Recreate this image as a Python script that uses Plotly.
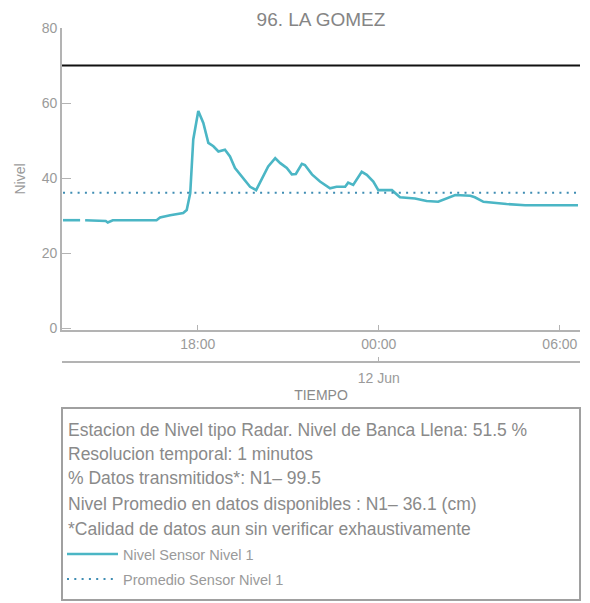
import plotly.graph_objects as go

# ---------------- data ----------------
TITLE = "96. LA GOMEZ"
times = [
    "2023-06-11 13:32", "2023-06-11 14:06", "2023-06-11 14:10", "2023-06-11 14:16",
    "2023-06-11 14:55", "2023-06-11 14:57", "2023-06-11 15:01", "2023-06-11 15:05",
    "2023-06-11 15:11", "2023-06-11 16:38", "2023-06-11 16:45", "2023-06-11 17:05",
    "2023-06-11 17:31", "2023-06-11 17:38", "2023-06-11 17:45", "2023-06-11 17:51",
    "2023-06-11 18:01", "2023-06-11 18:11", "2023-06-11 18:21", "2023-06-11 18:31",
    "2023-06-11 18:41", "2023-06-11 18:54", "2023-06-11 19:04", "2023-06-11 19:14",
    "2023-06-11 19:27", "2023-06-11 19:44", "2023-06-11 19:56", "2023-06-11 20:07",
    "2023-06-11 20:20", "2023-06-11 20:34", "2023-06-11 20:44", "2023-06-11 20:57",
    "2023-06-11 21:07", "2023-06-11 21:15", "2023-06-11 21:27", "2023-06-11 21:33",
    "2023-06-11 21:47", "2023-06-11 22:03", "2023-06-11 22:23", "2023-06-11 22:36",
    "2023-06-11 22:53", "2023-06-11 22:59", "2023-06-11 23:09", "2023-06-11 23:26",
    "2023-06-11 23:36", "2023-06-11 23:49", "2023-06-11 23:59", "2023-06-12 00:26",
    "2023-06-12 00:36", "2023-06-12 00:42", "2023-06-12 01:12", "2023-06-12 01:35",
    "2023-06-12 01:58", "2023-06-12 02:15", "2023-06-12 02:32", "2023-06-12 03:02",
    "2023-06-12 03:11", "2023-06-12 03:28", "2023-06-12 03:48", "2023-06-12 04:14",
    "2023-06-12 04:51", "2023-06-12 06:36",
]
nivel = [
    28.8, 28.8, None, 28.8,
    28.8, 28.6, 28.2, 28.5,
    28.8, 28.8, 29.5, 30.1,
    30.7, 31.5, 36.0, 50.3,
    57.9, 54.7, 49.4, 48.5,
    47.1, 47.6, 45.8, 42.7,
    40.4, 37.7, 36.8, 39.5,
    43.1, 45.3, 44.0, 42.7,
    41.0, 41.1, 43.8, 43.5,
    41.0, 39.1, 37.3, 37.7,
    37.7, 38.8, 38.2, 41.7,
    40.9, 39.1, 36.8, 36.8,
    35.5, 34.9, 34.6, 33.9,
    33.7, 34.6, 35.5, 35.3,
    34.9, 33.7, 33.4, 33.1,
    32.8, 32.8,
]
NIVEL_PROMEDIO = 36.1
BANCA_LLENA = 70
x_range = ["2023-06-11 13:30", "2023-06-12 06:40"]
y_ticks = [0, 20, 40, 60, 80]
info_lines = [
    "Estacion de Nivel tipo Radar. Nivel de Banca Llena: 51.5 %",
    "Resolucion temporal: 1 minutos",
    "% Datos transmitidos*: N1\u2013 99.5",
    "Nivel Promedio en datos disponibles : N1\u2013 36.1 (cm)",
    "*Calidad de datos aun sin verificar exhaustivamente",
]
series_names = ["Nivel Sensor Nivel 1", "Promedio Sensor Nivel 1"]

# ---------------- figure ----------------
FONT = "Liberation Sans, Arial, sans-serif"
AXIS_C = "#b3b3b3"
TICK_C = "#9a9a9a"
TEXT_C = "#8a8a8a"
TEAL = "#4bb6c5"
BLUE_DOT = "#3f8db3"

fig = go.Figure()
fig.add_trace(go.Scatter(
    x=times, y=nivel, mode="lines", name=series_names[0],
    line=dict(color=TEAL, width=2.6), connectgaps=False, legend="legend",
))
fig.add_trace(go.Scatter(
    x=[times[0], times[-1]], y=[NIVEL_PROMEDIO, NIVEL_PROMEDIO], mode="lines",
    name=series_names[1], xaxis="x2",
    line=dict(color=BLUE_DOT, width=2, dash="2px,5.3px"), legend="legend2",
))
fig.add_hline(y=BANCA_LLENA, line=dict(color="#111111", width=2))

# page has an 8px body margin: figure pixel = page pixel - 8
W, H = 582, 595
T = 20
def py(page_pix):
    return (H - (page_pix - 8)) / (H - T)

fig.update_layout(
    width=W, height=H,
    margin=dict(l=54, r=10, t=T, b=0, autoexpand=False),
    paper_bgcolor="white", plot_bgcolor="white",
    font=dict(family=FONT, color=TICK_C, size=14),
    title=dict(text=TITLE, x=0.5, xref="paper", y=1 - 11.5 / H, yanchor="middle",
               font=dict(size=19, color="#858585")),
    xaxis=dict(
        type="date", range=x_range, domain=[0, 1], anchor="y", automargin=False,
        tickformat="%H:%M", dtick=6 * 3600 * 1000, tick0="2023-06-11 00:00",
        ticks="inside", ticklen=5, tickcolor=AXIS_C, tickwidth=1.2,
        showline=True, linecolor=AXIS_C, linewidth=1.6,
        showgrid=False, zeroline=False,
        tickfont=dict(size=14, color=TICK_C),
    ),
    xaxis2=dict(
        type="date", range=x_range, overlaying="x", anchor="free", automargin=False,
        position=py(362.3), side="bottom",
        tickformat="%d %b", dtick=86400000, tick0="2023-06-12 00:00",
        ticks="inside", ticklen=5, tickcolor=AXIS_C, tickwidth=1.2,
        ticklabelstandoff=3,
        showline=True, linecolor=AXIS_C, linewidth=1.6,
        showgrid=False, zeroline=False,
        tickfont=dict(size=14, color=TICK_C),
        title=dict(text="TIEMPO", standoff=4, font=dict(size=14, color="#8a8a8a")),
    ),
    yaxis=dict(
        range=[-0.45, 80], domain=[py(330), 1], automargin=False,
        tickvals=y_ticks, ticks="inside", ticklen=9, tickcolor=AXIS_C, tickwidth=1.2,
        showline=True, linecolor=AXIS_C, linewidth=1.6,
        showgrid=False, zeroline=False,
        tickfont=dict(size=14, color=TICK_C),
        title=dict(text="Nivel", font=dict(size=14, color=TICK_C), standoff=13),
    ),
    legend=dict(x=0, xanchor="left", y=py(554), yanchor="middle",
                bgcolor="rgba(0,0,0,0)", itemwidth=51,
                font=dict(size=14.5, color="#9a9a9a")),
    legend2=dict(x=0, xanchor="left", y=py(579), yanchor="middle",
                 bgcolor="rgba(0,0,0,0)", itemwidth=51,
                 font=dict(size=14.5, color="#9a9a9a")),
    showlegend=True,
)

# information box
fig.add_shape(type="rect", xref="paper", yref="paper",
              x0=0, x1=1, y0=py(600), y1=py(408),
              line=dict(color="#a0a0a0", width=2), fillcolor="rgba(0,0,0,0)")
line_y = [429.5, 453.6, 478.0, 503.8, 528.7]
for txt, yy in zip(info_lines, line_y):
    fig.add_annotation(text=txt, xref="paper", yref="paper", x=0, y=py(yy),
                       xanchor="left", yanchor="middle", showarrow=False, xshift=4,
                       font=dict(size=17.5, color=TEXT_C, family=FONT))

fig.write_html("out.html")
